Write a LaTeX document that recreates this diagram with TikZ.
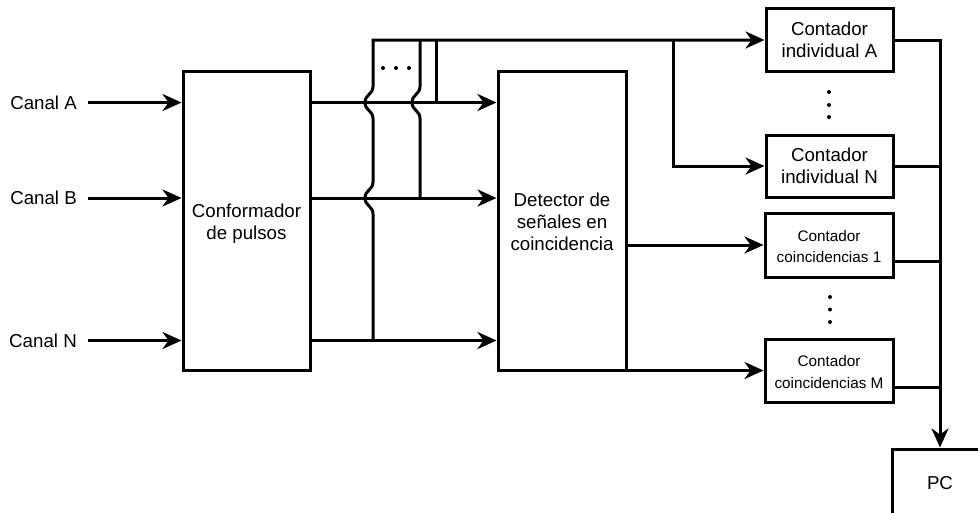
\documentclass[tikz,border=0pt]{standalone}
\usepackage{fontspec}
\setmainfont{Liberation Sans}
\usetikzlibrary{arrows.meta,calc}
\newcommand\boxtxt[2][6pt]{\raisebox{0pt}[\dimexpr\height+#1\relax][\depth]{\begin{tabular}{@{}c@{}}#2\end{tabular}}}
\begin{document}
\begin{tikzpicture}[x=1pt,y=-1pt,
  blk/.style={draw, line width=3pt, inner sep=0pt, font=\fontsize{18.7}{22}\selectfont},
  sblk/.style={blk, font=\fontsize{15.3}{21.5}\selectfont},
  wire/.style={line width=3pt},
  arr/.style={wire, -{Stealth[length=19pt,width=17pt,inset=6pt]}},
  lbl/.style={font=\fontsize{18.7}{22}\selectfont, anchor=east, inner xsep=11pt, inner ysep=0pt},
  dotc/.style={fill, circle, inner sep=0pt, minimum size=4pt}]
\useasboundingbox (0,0) rectangle (978,512);
\clip (0,0) rectangle (978,512);
% blocks
\node[blk, minimum width=127pt, minimum height=299pt] (conf) at (246.5,220.5) {\boxtxt[8pt]{Conformador\\de pulsos}};
\node[blk, minimum width=128pt, minimum height=299pt] (det) at (562,220.5) {\boxtxt[8pt]{Detector de\\señales en\\coincidencia}};
\node[blk, minimum width=127pt, minimum height=63pt] (indA) at (829.5,40) {\boxtxt[4pt]{Contador\\individual A}};
\node[blk, minimum width=127pt, minimum height=62pt] (indN) at (829.5,166) {\boxtxt[4pt]{Contador\\individual N}};
\node[sblk, minimum width=128pt, minimum height=64pt] (co1) at (829,245) {\boxtxt[5pt]{Contador\\coincidencias 1}};
\node[sblk, minimum width=128pt, minimum height=63pt] (coM) at (829,370.5) {\boxtxt[5pt]{Contador\\coincidencias M}};
\node[blk, minimum width=96pt, minimum height=68pt] (pc) at (940,483) {PC};
% channel labels
\node[lbl] (cA) at (88,102.5) {Canal A};
\node[lbl] (cB) at (88,198) {Canal B};
\node[lbl] (cN) at (88,340.5) {Canal N};
% inputs
\draw[arr] (cA.east) -- (conf.west |- cA.east);
\draw[arr] (cB.east) -- (conf.west |- cB.east);
\draw[arr] (cN.east) -- (conf.west |- cN.east);
% conformador -> detector
\draw[arr] (conf.east |- cA.east) -- (det.west |- cA.east);
\draw[arr] (conf.east |- cB.east) -- (det.west |- cB.east);
\draw[arr] (conf.east |- cN.east) -- (det.west |- cN.east);
% taps to individual counters
\coordinate (t1) at (373,340.5);
\coordinate (t2) at (420,198);
\coordinate (t3) at (436,102.5);
\coordinate (br) at (673,40);
\draw[arr] (t1) -- (373,214) .. controls (373,206) and (365,206) .. (365,198)
  .. controls (365,190) and (373,190) .. (373,182) -- (373,118.5)
  .. controls (373,110.5) and (365,110.5) .. (365,102.5)
  .. controls (365,94.5) and (373,94.5) .. (373,86.5) -- (373,40) -- (indA.west);
\draw[wire] (t2) -- (420,118.5) .. controls (420,110.5) and (412,110.5) .. (412,102.5)
  .. controls (412,94.5) and (420,94.5) .. (420,86.5) -- (420,40);
\draw[wire] (t3) -- (436,40);
\draw[arr] (br) -- (br |- indN.west) -- (indN.west);
% detector -> coincidence counters
\draw[arr] (det.east |- co1.west) -- (co1.west);
\draw[arr] (det.east |- coM.west) -- (coM.west);
% outputs to PC
\coordinate (bus) at (940,40);
\draw[arr] (indA.east) -- (bus) -- (pc.north);
\draw[wire] (indN.east) -- (bus |- indN.east);
\draw[wire] (co1.east |- 0,261) -- (bus |- 0,261);
\draw[wire] (coM.east |- 0,387) -- (bus |- 0,387);
% ellipsis dots
\node[dotc] (d1) at (383,68) {};
\node[dotc] (d2) at (396,68) {};
\node[dotc] (d3) at (409,68) {};
\node[dotc] (e1) at (829,92) {};
\node[dotc] (e2) at (829,105) {};
\node[dotc] (e3) at (829,117) {};
\node[dotc] (f1) at (830,297) {};
\node[dotc] (f2) at (830,309.5) {};
\node[dotc] (f3) at (830,322) {};
\end{tikzpicture}
\end{document}
